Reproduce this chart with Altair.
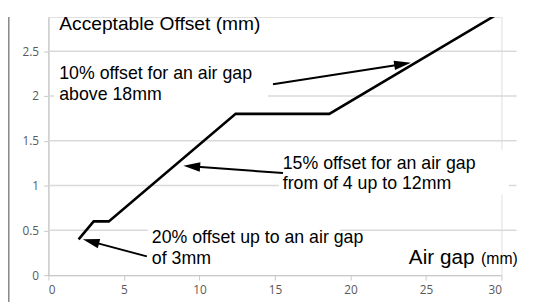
import math
import altair as alt
import pandas as pd

# ---- data ----
gap_mm = [2, 3, 4, 12.4, 18.6, 30]
offset_mm = [0.4, 0.6, 0.6, 1.8, 1.8, 2.94]

grid_values = [0.5, 1.0, 1.5, 2.0, 2.5]
grid_x_end = 31.0

x_ticks = [0, 5, 10, 15, 20, 25, 30]
y_ticks = [0, 0.5, 1, 1.5, 2, 2.5]

X_MAX = 30
Y_MAX = 2.88

# annotations (data coordinates)
note_text = [
    "10% offset for an air gap\nabove 18mm",
    "15% offset for an air gap\nfrom of 4 up to 12mm",
    "20% offset up to an air gap\nof 3mm",
]
note_x = [0.72, 15.52, 6.85]
note_y = [2.19, 1.19, 0.355]

box_x = [0.39, 15.26, 6.6]
box_x2 = [14.55, 30.5, 19.3]
box_y = [2.385, 1.40, 0.57]
box_y2 = [1.89, 0.90, 0.10]

arrow_x0 = [14.87, 15.53, 6.52]
arrow_y0 = [2.13, 1.14, 0.21]
arrow_x1 = [24.0, 8.94, 2.28]
arrow_y1 = [2.37, 1.22, 0.40]

W, H = 460, 262
SX = W / X_MAX
SY = H / Y_MAX
HEAD = 17

xs = alt.Scale(domain=[0, X_MAX], nice=False, zero=False)
ys = alt.Scale(domain=[0, Y_MAX], nice=False, zero=False)

line_df = pd.DataFrame({"gap": gap_mm, "off": offset_mm})
grid_df = pd.DataFrame({"y": grid_values, "x0": [0] * len(grid_values), "x1": [grid_x_end] * len(grid_values)})
box_df = pd.DataFrame({"x": box_x, "x2": box_x2, "y": box_y, "y2": box_y2})

rows = []
for a, b, c, d in zip(arrow_x0, arrow_y0, arrow_x1, arrow_y1):
    dxp = (c - a) * SX
    dyp = -(d - b) * SY
    L = math.hypot(dxp, dyp)
    f = max(0.0, (L - HEAD + 3) / L)
    ang = math.degrees(math.atan2(dyp, dxp)) % 360
    rows.append({"x0": a, "y0": b, "xe": a + (c - a) * f, "ye": b + (d - b) * f,
                 "x1": c, "y1": d, "ang": ang})
arrow_df = pd.DataFrame(rows)
note_df = pd.DataFrame({"t": note_text, "x": note_x, "y": note_y})

base_x = alt.X("gap:Q", scale=xs, title=None,
               axis=alt.Axis(values=x_ticks, grid=False, domainColor="#c8c8c8", domainWidth=1.3,
                             tickColor="#c8c8c8", tickSize=5, labelColor="#595959",
                             labelFont="Open Sans", labelFontSize=12, labelPadding=5))
base_y = alt.Y("off:Q", scale=ys, title=None,
               axis=alt.Axis(values=y_ticks, grid=False, domainColor="#c8c8c8", domainWidth=1.3,
                             tickColor="#c8c8c8", tickSize=5, labelColor="#595959",
                             labelFont="Open Sans", labelFontSize=12, labelPadding=5,
                             format="~g"))

grid = alt.Chart(grid_df).mark_rule(color="#d9d9d9", strokeWidth=1.5).encode(
    x=alt.X("x0:Q", scale=xs), x2="x1:Q", y=alt.Y("y:Q", scale=ys))

boxes = alt.Chart(box_df).mark_rect(color="white").encode(
    x=alt.X("x:Q", scale=xs), x2="x2:Q", y=alt.Y("y:Q", scale=ys), y2="y2:Q")

line = alt.Chart(line_df).mark_line(color="black", strokeWidth=2.6, clip=True).encode(
    x=base_x, y=base_y)

arrow_lines = alt.Chart(arrow_df).mark_rule(color="black", strokeWidth=2).encode(
    x=alt.X("x0:Q", scale=xs), y=alt.Y("y0:Q", scale=ys), x2="xe:Q", y2="ye:Q")

heads = alt.Chart(arrow_df).mark_point(
    shape="M0,0L-1,-0.28L-1,0.28Z", filled=True, color="black", opacity=1,
    size=(2 * HEAD) ** 2).encode(
    x=alt.X("x1:Q", scale=xs), y=alt.Y("y1:Q", scale=ys),
    angle=alt.Angle("ang:Q", scale=None))

notes = alt.Chart(note_df).mark_text(
    align="left", baseline="alphabetic", font="Liberation Sans", fontSize=18,
    lineHeight=21, color="black", lineBreak="\n").encode(
    x=alt.X("x:Q", scale=xs), y=alt.Y("y:Q", scale=ys), text="t:N")

ylab = alt.Chart(pd.DataFrame({"t": ["Acceptable Offset (mm)"], "x": [0.72], "y": [2.735]})).mark_text(
    align="left", baseline="alphabetic", font="Liberation Sans", fontSize=19.5, color="black").encode(
    x=alt.X("x:Q", scale=xs), y=alt.Y("y:Q", scale=ys), text="t:N")

xlab1 = alt.Chart(pd.DataFrame({"t": ["Air gap"], "x": [23.87], "y": [0.12]})).mark_text(
    align="left", baseline="alphabetic", font="Liberation Sans", fontSize=21, color="black").encode(
    x=alt.X("x:Q", scale=xs), y=alt.Y("y:Q", scale=ys), text="t:N")
xlab2 = alt.Chart(pd.DataFrame({"t": ["(mm)"], "x": [28.65], "y": [0.12]})).mark_text(
    align="left", baseline="alphabetic", font="Liberation Sans", fontSize=16, color="black").encode(
    x=alt.X("x:Q", scale=xs), y=alt.Y("y:Q", scale=ys), text="t:N")

border = alt.Chart(pd.DataFrame({"a": [0]})).mark_rule(color="#8c8c8c", strokeWidth=1.6).encode(
    x=alt.value(-40.2), y=alt.value(0), y2=alt.value(H + 30))

chart = alt.layer(grid, boxes, line, arrow_lines, heads, notes, ylab, xlab1, xlab2, border).properties(
    width=W, height=H, padding={"left": 41, "top": 7, "right": 30, "bottom": 25},
    autosize=alt.AutoSizeParams(type="none"),
).configure_view(stroke=None).configure(background="white")

chart.save("out.html", embed_options={"renderer": "svg", "actions": False})
